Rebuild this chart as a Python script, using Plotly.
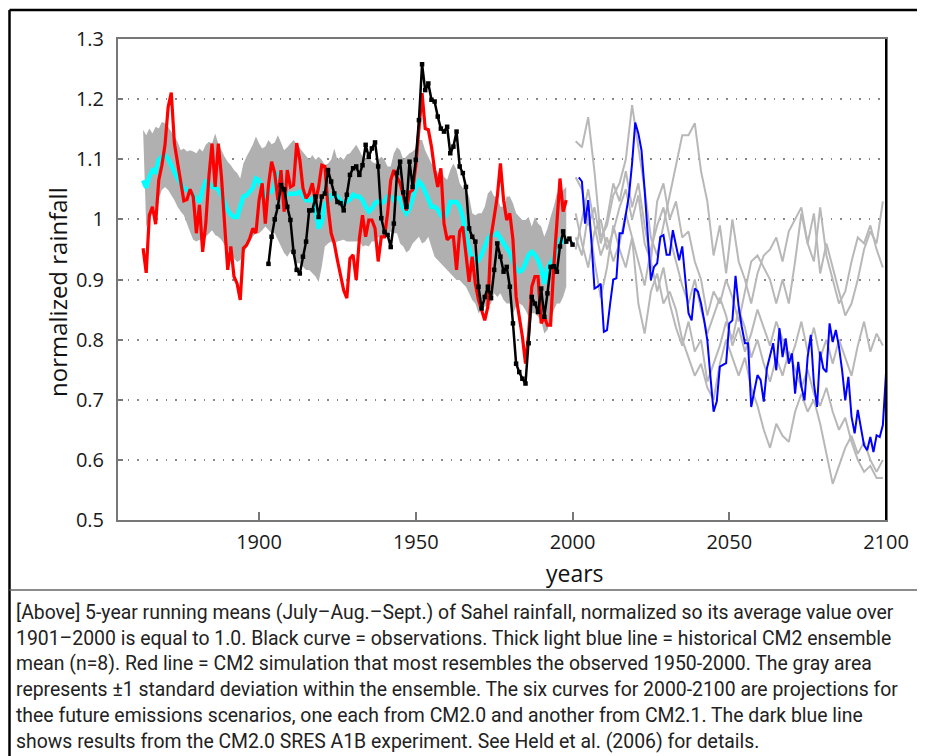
import plotly.graph_objects as go

# ---------------- data ----------------
band_years = list(range(1863, 1999))
band_upper = [1.149, 1.140, 1.151, 1.143, 1.154, 1.151, 1.162, 1.160, 1.154, 1.146,
              1.138, 1.129, 1.115, 1.118, 1.113, 1.115, 1.113, 1.110, 1.118, 1.113,
              1.124, 1.129, 1.126, 1.143, 1.126, 1.115, 1.104, 1.096, 1.090, 1.082,
              1.077, 1.068, 1.093, 1.104, 1.115, 1.124, 1.138, 1.126, 1.118, 1.121,
              1.132, 1.125, 1.128, 1.140, 1.128, 1.115, 1.120, 1.126, 1.132, 1.125,
              1.118, 1.112, 1.104, 1.099, 1.107, 1.099, 1.104, 1.099, 1.090, 1.093,
              1.099, 1.118, 1.099, 1.104, 1.099, 1.108, 1.110, 1.118, 1.124, 1.115,
              1.104, 1.099, 1.104, 1.096, 1.093, 1.099, 1.104, 1.099, 1.088, 1.088,
              1.110, 1.120, 1.115, 1.099, 1.104, 1.110, 1.113, 1.118, 1.132, 1.132,
              1.115, 1.104, 1.093, 1.088, 1.076, 1.085, 1.071, 1.066, 1.082, 1.093,
              1.082, 1.060, 1.052, 1.049, 1.038, 1.010, 1.007, 1.010, 1.010, 1.021,
              1.043, 1.049, 1.038, 1.038, 1.021, 1.021, 1.038, 1.038, 1.027, 1.010,
              1.004, 0.999, 0.999, 1.004, 0.988, 1.004, 0.993, 0.988, 0.971, 0.985,
              1.004, 1.021, 1.043, 1.043, 1.049, 1.054]
band_lower = [0.988, 0.999, 1.010, 1.021, 1.035, 1.049, 1.054, 1.049, 1.040, 1.032,
              1.021, 1.013, 1.007, 0.993, 0.979, 0.966, 0.963, 0.966, 0.963, 0.971,
              0.977, 0.982, 0.974, 0.971, 0.966, 0.957, 0.952, 0.943, 0.935, 0.929,
              0.932, 0.943, 0.954, 0.963, 0.971, 0.977, 0.977, 0.982, 0.988, 0.982,
              0.977, 0.977, 0.966, 0.955, 0.944, 0.938, 0.946, 0.938, 0.927, 0.927,
              0.921, 0.916, 0.916, 0.910, 0.905, 0.896, 0.921, 0.955, 0.960, 0.963,
              0.960, 0.963, 0.965, 0.966, 0.963, 0.963, 0.963, 0.963, 0.965, 0.955,
              0.957, 0.955, 0.963, 0.963, 0.971, 0.963, 0.974, 0.974, 0.980, 0.977,
              0.977, 0.960, 0.955, 0.945, 0.949, 0.960, 0.966, 0.971, 0.960, 0.963,
              0.971, 0.954, 0.938, 0.932, 0.927, 0.921, 0.916, 0.910, 0.905, 0.899,
              0.899, 0.893, 0.888, 0.877, 0.866, 0.860, 0.844, 0.849, 0.855, 0.855,
              0.860, 0.877, 0.871, 0.877, 0.866, 0.860, 0.860, 0.844, 0.855, 0.860,
              0.857, 0.849, 0.838, 0.844, 0.844, 0.838, 0.832, 0.810, 0.816, 0.832,
              0.849, 0.860, 0.860, 0.871, 0.888]

ens_mean = [1.065, 1.053, 1.071, 1.082, 1.079, 1.099, 1.104, 1.107, 1.101, 1.090,
            1.076, 1.068, 1.060, 1.051, 1.049, 1.046, 1.040, 1.035, 1.029, 1.049,
            1.063, 1.060, 1.054, 1.054, 1.049, 1.040, 1.027, 1.015, 1.008, 1.004,
            1.004, 1.020, 1.038, 1.040, 1.045, 1.052, 1.068, 1.065, 1.050, 1.037,
            1.044, 1.046, 1.055, 1.078, 1.070, 1.048, 1.042, 1.042, 1.043, 1.043,
            1.046, 1.040, 1.032, 1.032, 1.035, 1.018, 0.985, 0.995, 1.025, 1.030,
            1.040, 1.040, 1.038, 1.030, 1.027, 1.030, 1.033, 1.041, 1.038, 1.038,
            1.032, 1.021, 1.013, 1.018, 1.027, 1.030, 1.027, 1.030, 1.038, 1.038,
            1.032, 1.036, 1.035, 1.018, 1.010, 1.018, 1.038, 1.052, 1.063, 1.057,
            1.046, 1.032, 1.021, 1.021, 1.016, 1.007, 1.002, 1.010, 1.029, 1.029,
            1.029, 1.021, 1.004, 0.971, 0.949, 0.935, 0.935, 0.932, 0.941, 0.957,
            0.968, 0.974, 0.974, 0.977, 0.968, 0.960, 0.950, 0.944, 0.930, 0.918,
            0.913, 0.916, 0.927, 0.941, 0.946, 0.941, 0.932, 0.918, 0.893, 0.918,
            0.927, 0.935, 0.955, 0.966, 0.963, 0.963]

red_sim = [0.952, 0.911, 1.007, 1.021, 0.992, 1.065, 1.090, 1.124, 1.187, 1.211,
           1.126, 1.093, 1.065, 1.031, 1.033, 1.050, 1.038, 0.977, 1.024, 0.946,
           0.993, 1.071, 1.126, 1.054, 1.126, 1.071, 0.993, 0.916, 0.955, 0.905,
           0.893, 0.866, 0.952, 0.957, 0.968, 0.985, 0.977, 1.032, 1.060, 0.993,
           1.057, 1.096, 1.077, 1.032, 1.082, 1.013, 1.082, 1.054, 1.057, 1.127,
           1.099, 1.052, 1.035, 1.043, 1.060, 1.029, 1.054, 1.090, 1.088, 1.021,
           0.977, 0.960, 0.932, 0.905, 0.882, 0.869, 0.935, 0.941, 0.899, 0.968,
           1.007, 0.971, 0.999, 0.999, 0.985, 0.930, 0.971, 0.971, 1.010, 1.065,
           1.082, 1.070, 1.060, 1.040, 1.015, 1.045, 1.049, 1.090, 1.154, 1.210,
           1.151, 1.149, 1.121, 1.082, 1.054, 1.085, 0.993, 0.966, 0.971, 0.971,
           0.916, 0.980, 0.988, 0.938, 0.896, 0.938, 0.893, 0.866, 0.849, 0.832,
           0.855, 0.971, 1.004, 1.038, 1.093, 1.032, 0.999, 1.010, 0.966, 0.871,
           0.838, 0.805, 0.760, 0.810, 0.888, 0.905, 0.905, 0.827, 0.838, 0.824,
           0.824, 0.921, 0.993, 1.068, 1.013, 1.032]

obs_years = list(range(1903, 2001))
obs = [0.926, 0.971, 1.000, 1.021, 1.057, 1.050, 1.021, 0.999, 0.946, 0.916,
       0.910, 0.938, 0.963, 1.015, 1.015, 1.038, 1.004, 1.038, 1.043, 1.082,
       1.063, 1.043, 1.029, 1.027, 1.015, 1.041, 1.074, 1.085, 1.088, 1.074,
       1.090, 1.124, 1.104, 1.118, 1.128, 1.088, 1.002, 0.979, 0.974, 0.954,
       0.993, 1.077, 1.096, 1.045, 1.021, 1.096, 1.054, 1.099, 1.165, 1.258,
       1.215, 1.226, 1.199, 1.196, 1.171, 1.151, 1.146, 1.154, 1.110, 1.121,
       1.146, 1.088, 1.077, 1.054, 0.985, 0.971, 0.963, 0.888, 0.852, 0.871,
       0.888, 0.869, 0.916, 0.960, 0.938, 0.913, 0.921, 0.888, 0.827, 0.760,
       0.746, 0.735, 0.727, 0.794, 0.871, 0.860, 0.846, 0.885, 0.838, 0.877,
       0.921, 0.922, 0.913, 0.955, 0.980, 0.963, 0.968, 0.958]

a1b_years = list(range(2002, 2101))
a1b = [1.070, 1.063, 0.993, 1.032, 0.966, 0.885, 0.888, 0.893, 0.813, 0.816,
       0.860, 0.900, 0.902, 0.977, 0.977, 1.010, 1.040, 1.093, 1.161, 1.143,
       1.115, 1.049, 0.982, 0.899, 0.921, 0.927, 0.971, 0.974, 0.941, 0.941,
       0.982, 0.955, 0.932, 0.955, 0.899, 0.844, 0.832, 0.885, 0.880, 0.860,
       0.832, 0.799, 0.738, 0.680, 0.697, 0.755, 0.758, 0.761, 0.827, 0.832,
       0.906, 0.855, 0.821, 0.794, 0.794, 0.688, 0.715, 0.741, 0.733, 0.697,
       0.752, 0.771, 0.794, 0.749, 0.819, 0.771, 0.802, 0.760, 0.777, 0.710,
       0.763, 0.722, 0.699, 0.771, 0.808, 0.727, 0.688, 0.780, 0.752, 0.746,
       0.827, 0.796, 0.816, 0.788, 0.749, 0.699, 0.738, 0.672, 0.644, 0.683,
       0.655, 0.624, 0.616, 0.638, 0.613, 0.641, 0.638, 0.658, 0.744]

proj_years = list(range(2001, 2100, 2))
proj_1 = [1.13, 1.12, 1.17, 1.08, 0.97, 0.99, 1.04, 1.06, 1.10, 1.19,
          1.12, 1.05, 0.97, 0.94, 0.99, 1.04, 1.09, 1.14, 1.14, 1.16,
          1.08, 1.03, 0.94, 0.99, 0.91, 1.00, 0.93, 0.90, 0.86, 0.91,
          0.94, 0.95, 0.97, 0.93, 0.98, 1.00, 1.02, 0.96, 0.93, 1.02,
          0.94, 0.90, 0.86, 0.88, 0.93, 0.97, 0.96, 0.99, 0.95, 0.92]
proj_2 = [1.07, 1.05, 0.99, 1.02, 0.96, 1.00, 1.06, 1.03, 1.08, 1.02,
          1.06, 0.99, 0.93, 1.03, 1.06, 1.00, 1.03, 0.97, 0.98, 0.93,
          0.90, 0.84, 0.88, 0.86, 0.90, 0.87, 0.83, 0.88, 0.93, 0.94,
          0.92, 0.90, 0.86, 0.90, 0.86, 0.93, 1.01, 0.96, 1.01, 0.91,
          0.96, 0.92, 0.88, 0.84, 0.86, 0.90, 0.95, 0.98, 0.96, 1.03]
proj_3 = [0.97, 0.94, 1.01, 0.93, 0.87, 0.92, 0.99, 0.95, 0.92, 0.97,
          0.86, 0.81, 0.88, 0.91, 0.86, 0.88, 0.85, 0.80, 0.77, 0.74,
          0.76, 0.72, 0.70, 0.76, 0.80, 0.77, 0.74, 0.77, 0.72, 0.69,
          0.65, 0.62, 0.66, 0.64, 0.63, 0.68, 0.71, 0.68, 0.70, 0.66,
          0.61, 0.56, 0.59, 0.62, 0.64, 0.61, 0.63, 0.60, 0.58, 0.60]
proj_4 = [1.01, 0.96, 0.92, 0.98, 1.00, 0.95, 0.98, 1.02, 1.05, 1.00,
          1.04, 0.96, 0.93, 0.88, 0.92, 0.86, 0.82, 0.79, 0.83, 0.78,
          0.80, 0.73, 0.76, 0.79, 0.83, 0.80, 0.85, 0.82, 0.77, 0.80,
          0.76, 0.73, 0.77, 0.74, 0.78, 0.75, 0.72, 0.75, 0.71, 0.69,
          0.72, 0.68, 0.65, 0.67, 0.63, 0.60, 0.58, 0.59, 0.57, 0.57]
proj_5 = [0.95, 1.00, 1.05, 0.99, 0.94, 0.97, 0.93, 0.96, 1.01, 0.97,
          0.93, 0.89, 0.95, 0.99, 1.02, 0.97, 0.93, 0.89, 0.86, 0.90,
          0.85, 0.81, 0.84, 0.87, 0.84, 0.79, 0.82, 0.78, 0.81, 0.85,
          0.82, 0.79, 0.83, 0.80, 0.76, 0.79, 0.83, 0.78, 0.82, 0.77,
          0.80, 0.76, 0.80, 0.77, 0.74, 0.79, 0.83, 0.78, 0.81, 0.79]

x_ticks = [1900, 1950, 2000, 2050, 2100]
y_ticks = [0.5, 0.6, 0.7, 0.8, 0.9, 1.0, 1.1, 1.2, 1.3]
y_labels = ["0.5", "0.6", "0.7", "0.8", "0.9", "1", "1.1", "1.2", "1.3"]

caption_lines = [
    "[Above] 5-year running means (July\u2013Aug.\u2013Sept.) of Sahel rainfall, normalized so its average value over",
    "1901\u20132000 is equal to 1.0. Black curve = observations. Thick light blue line = historical CM2 ensemble",
    "mean (n=8). Red line = CM2 simulation that most resembles the observed 1950-2000. The gray area",
    "represents \u00b11 standard deviation within the ensemble. The six curves for 2000-2100 are projections for",
    "thee future emissions scenarios, one each from CM2.0 and another from CM2.1. The dark blue line",
    "shows results from the CM2.0 SRES A1B experiment. See Held et al. (2006) for details.",
]

# ---------------- layout geometry (page pixels; page body has an 8px offset) ----------------
W, H = 925, 756
OFF = 8
PL, PR, PT, PB = 118, 886, 39, 520
L, R, T, B = PL - OFF, PR - OFF, PT - OFF, PB - OFF


def pxx(x):
    return (x - OFF - L) / (R - L)


def pxy(y):
    return (B - (y - OFF)) / (B - T)


fig = go.Figure()

fig.add_trace(go.Scatter(
    x=band_years + band_years[::-1], y=band_upper + band_lower[::-1],
    fill="toself", fillcolor="rgb(176,176,176)", line=dict(width=0),
    mode="lines", hoverinfo="skip", showlegend=False))

for series in [proj_1, proj_2, proj_3, proj_4, proj_5]:
    fig.add_trace(go.Scatter(x=proj_years, y=series, mode="lines",
                             line=dict(color="rgb(184,184,184)", width=2),
                             showlegend=False))

fig.add_trace(go.Scatter(x=band_years, y=ens_mean, mode="lines",
                         line=dict(color="#00ffff", width=4.5), showlegend=False))
fig.add_trace(go.Scatter(x=band_years, y=red_sim, mode="lines",
                         line=dict(color="#ff0000", width=3.2), showlegend=False))
fig.add_trace(go.Scatter(x=obs_years, y=obs, mode="lines+markers",
                         line=dict(color="black", width=2.5),
                         marker=dict(symbol="square", size=4.5, color="black"),
                         showlegend=False))
fig.add_trace(go.Scatter(x=a1b_years, y=a1b, mode="lines",
                         line=dict(color="#0000ff", width=2), showlegend=False))

axis_font = dict(family="Open Sans, Lato, sans-serif", size=20, color="#1a1a1a")

fig.update_xaxes(range=[1855, 2100], tickvals=x_ticks, ticks="inside", ticklen=8,
                 tickcolor="#777", tickwidth=1.5, showgrid=False, zeroline=False,
                 showline=True, linecolor="#777", linewidth=2, mirror=True,
                 tickfont=axis_font, ticklabelstandoff=3)
fig.update_yaxes(range=[0.5, 1.3], tickvals=y_ticks, ticktext=y_labels,
                 ticks="inside", ticklen=5, tickcolor="#777", tickwidth=1.5,
                 showgrid=True, gridcolor="#888", gridwidth=1.5,
                 griddash="1.5px,8px", zeroline=False,
                 showline=True, linecolor="#777", linewidth=2, mirror=True,
                 tickfont=axis_font, ticklabelstandoff=8)

annotations = [
    dict(text="normalized rainfall", textangle=-90, x=pxx(57), y=pxy(292),
         xref="paper", yref="paper", showarrow=False,
         font=dict(family="Open Sans, sans-serif", size=24, color="#111"),
         xanchor="center", yanchor="middle"),
    dict(text="years", x=pxx(575), y=pxy(573), xref="paper", yref="paper",
         showarrow=False, font=dict(family="Open Sans, sans-serif", size=23, color="#111"),
         xanchor="center", yanchor="middle"),
]
cap_y = [612, 638, 663, 689, 715, 741]
for line, yc in zip(caption_lines, cap_y):
    annotations.append(dict(text=line, x=pxx(14), y=pxy(yc), xref="paper", yref="paper",
                            showarrow=False, xanchor="left", yanchor="middle",
                            font=dict(family="Roboto, sans-serif", size=19.4, color="#222")))

shapes = [
    # black right-hand axis line
    dict(type="line", xref="paper", yref="paper", x0=1, x1=1, y0=0, y1=1,
         line=dict(color="black", width=2)),
    # outer frame
    dict(type="line", xref="paper", yref="paper", x0=pxx(9.5), x1=pxx(9.5), y0=pxy(10), y1=pxy(760),
         line=dict(color="black", width=2.5)),
    dict(type="line", xref="paper", yref="paper", x0=pxx(9.5), x1=pxx(920), y0=pxy(10), y1=pxy(10),
         line=dict(color="black", width=2.5)),
    dict(type="line", xref="paper", yref="paper", x0=pxx(920), x1=pxx(920), y0=pxy(10), y1=pxy(45),
         line=dict(color="black", width=2.5)),
    dict(type="line", xref="paper", yref="paper", x0=pxx(9.5), x1=pxx(922), y0=pxy(590), y1=pxy(590),
         line=dict(color="#666", width=1.5)),
    dict(type="line", xref="paper", yref="paper", x0=pxx(922), x1=pxx(922), y0=pxy(590), y1=pxy(760),
         line=dict(color="#666", width=1.5)),
]

fig.update_layout(width=W, height=H, autosize=False,
                  margin=dict(l=L, r=W - R, t=T, b=H - B, pad=0),
                  paper_bgcolor="white", plot_bgcolor="white",
                  annotations=annotations, shapes=shapes, showlegend=False)

fig.write_html("out.html")
